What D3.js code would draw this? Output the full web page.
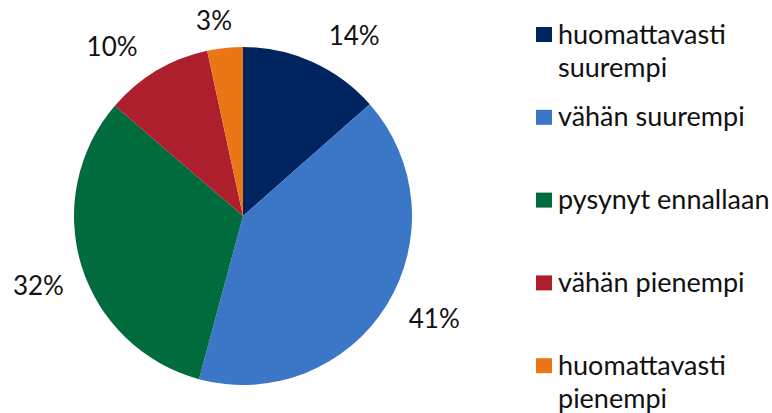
<!DOCTYPE html>
<html>
<head>
<meta charset="utf-8">
<script src="https://cdn.jsdelivr.net/npm/d3@7"></script>
<style>
  body { margin: 0; background: #fff; }
  text { font-family: Lato, "Open Sans", sans-serif; fill: #111; }
</style>
</head>
<body>
<div id="chart"></div>
<script>
var categories = ["huomattavasti suurempi", "vähän suurempi", "pysynyt ennallaan", "vähän pienempi", "huomattavasti pienempi"];
var legendLines = [["huomattavasti", "suurempi"], ["vähän suurempi"], ["pysynyt ennallaan"], ["vähän pienempi"], ["huomattavasti", "pienempi"]];
var values = [13.5, 40.7, 32.1, 10.3, 3.4];
var colors = ["#00245f", "#3b77c6", "#006b3c", "#ae1f2e", "#eb7615"];

var width = 772, height = 413;
var cx = 243, cy = 216, radius = 169;
var labelGap = 188;
// nudges of the labels (px): along the rim (clockwise) and outwards
var labelShift = [27, -14, -7, -26, -8];
var labelPush = [0, 0, 0, 0, -6];

var svg = d3.select("#chart")
  .append("svg")
  .attr("width", width)
  .attr("height", height);

var pie = d3.pie()
  .sort(null)
  .value(function(d) { return d; });

var arc = d3.arc().innerRadius(0).outerRadius(radius);

var g = svg.append("g")
  .attr("transform", "translate(" + cx + "," + cy + ")");

var slices = pie(values);

g.selectAll("path")
  .data(slices)
  .enter()
  .append("path")
  .attr("d", arc)
  .attr("fill", function(d, i) { return colors[i]; });

//labels outside the rim: box edge sits at labelGap from the centre
g.selectAll("text.lbl")
  .data(slices)
  .enter()
  .append("text")
  .attr("class", "lbl")
  .attr("text-anchor", "middle")
  .attr("dy", "0.35em")
  .style("font-size", "26px")
  .text(function(d) { return Math.round(d.value) + "%"; })
  .attr("transform", function(d, i) {
    var a = (d.startAngle + d.endAngle) / 2;
    var s = Math.sin(a), c = Math.cos(a);
    var w = this.getComputedTextLength() / 2, h = 13;
    var r = labelGap + labelPush[i] + Math.abs(s) * w + Math.abs(c) * h;
    var x = r * s + labelShift[i] * c;
    var y = -r * c + labelShift[i] * s;
    return "translate(" + x + "," + y + ")";
  });

//legend
var legend = svg.append("g")
  .selectAll("g")
  .data(categories)
  .enter()
  .append("g")
  .attr("transform", function(d, i) {
    return "translate(536," + (34.5 + i * 82.8) + ")";
  });

legend
  .append("rect")
  .attr("x", 0)
  .attr("y", -7.5)
  .attr("width", 16)
  .attr("height", 15)
  .style("fill", function(d, i) { return colors[i]; });

legend
  .append("text")
  .attr("x", 22)
  .attr("y", 9)
  .style("font-size", "27px")
  .selectAll("tspan")
  .data(function(d, i) { return legendLines[i]; })
  .enter()
  .append("tspan")
  .attr("x", 22)
  .attr("dy", function(d, j) { return j === 0 ? 0 : 33; })
  .text(function(d) { return d; });
</script>
</body>
</html>
